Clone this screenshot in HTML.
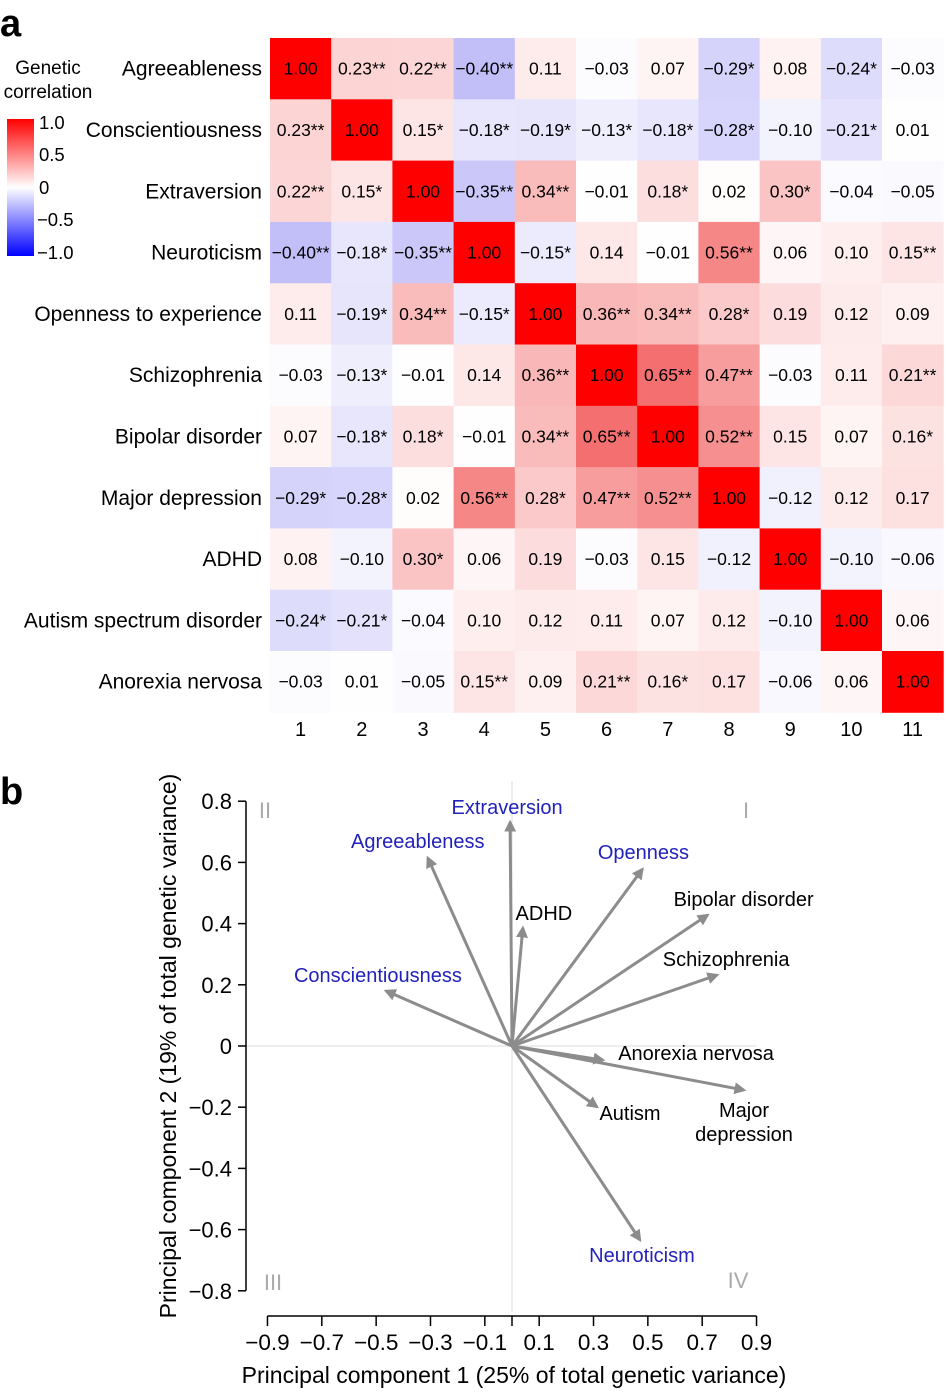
<!DOCTYPE html>
<html><head><meta charset="utf-8"><style>
body{margin:0;background:#fff;font-family:"Liberation Sans",sans-serif;}
svg text{font-family:"Liberation Sans",sans-serif;}
</style></head><body>
<svg id="s" width="946" height="1389" viewBox="0 0 946 1389" xmlns="http://www.w3.org/2000/svg">
<defs><linearGradient id="cb" x1="0" y1="0" x2="0" y2="1">
<stop offset="0" stop-color="#f00"/><stop offset="0.5" stop-color="#fff"/><stop offset="1" stop-color="#00f"/></linearGradient>
<marker id="ah" viewBox="0 0 10 10" refX="8" refY="5" markerWidth="4" markerHeight="4" orient="auto"><path d="M0,0L10,5L0,10z" fill="#8c8c8c"/></marker></defs>
<text x="0" y="36" font-size="38" font-weight="bold">a</text>
<text x="0" y="804" font-size="38" font-weight="bold">b</text>
<g>
<text x="48" y="74" font-size="19" text-anchor="middle">Genetic</text>
<text x="48" y="98" font-size="19" text-anchor="middle">correlation</text>
<rect x="7" y="119" width="27" height="137" fill="url(#cb)"/>
<text x="39" y="129" font-size="18.5">1.0</text><text x="39" y="161" font-size="18.5">0.5</text>
<text x="39" y="194" font-size="18.5">0</text><text x="37" y="226" font-size="18.5">−0.5</text><text x="37" y="259" font-size="18.5">−1.0</text>
</g>
<g id="hm"></g>
<g id="pca"></g>
</svg>
<script>
const traits=["Agreeableness","Conscientiousness","Extraversion","Neuroticism","Openness to experience","Schizophrenia","Bipolar disorder","Major depression","ADHD","Autism spectrum disorder","Anorexia nervosa"];
const colLabels=["1","2","3","4","5","6","7","8","9","10","11"];
const corr=[
["1.00","0.23**","0.22**","−0.40**","0.11","−0.03","0.07","−0.29*","0.08","−0.24*","−0.03"],
["0.23**","1.00","0.15*","−0.18*","−0.19*","−0.13*","−0.18*","−0.28*","−0.10","−0.21*","0.01"],
["0.22**","0.15*","1.00","−0.35**","0.34**","−0.01","0.18*","0.02","0.30*","−0.04","−0.05"],
["−0.40**","−0.18*","−0.35**","1.00","−0.15*","0.14","−0.01","0.56**","0.06","0.10","0.15**"],
["0.11","−0.19*","0.34**","−0.15*","1.00","0.36**","0.34**","0.28*","0.19","0.12","0.09"],
["−0.03","−0.13*","−0.01","0.14","0.36**","1.00","0.65**","0.47**","−0.03","0.11","0.21**"],
["0.07","−0.18*","0.18*","−0.01","0.34**","0.65**","1.00","0.52**","0.15","0.07","0.16*"],
["−0.29*","−0.28*","0.02","0.56**","0.28*","0.47**","0.52**","1.00","−0.12","0.12","0.17"],
["0.08","−0.10","0.30*","0.06","0.19","−0.03","0.15","−0.12","1.00","−0.10","−0.06"],
["−0.24*","−0.21*","−0.04","0.10","0.12","0.11","0.07","0.12","−0.10","1.00","0.06"],
["−0.03","0.01","−0.05","0.15**","0.09","0.21**","0.16*","0.17","−0.06","0.06","1.00"]];
const pcNames=["Extraversion","Agreeableness","Openness","ADHD","Bipolar disorder","Schizophrenia","Conscientiousness","Anorexia nervosa","Major depression","Autism","Neuroticism"];
const pc1=[-0.007,-0.31,0.48,0.04,0.72,0.755,-0.464,0.335,0.854,0.313,0.471];
const pc2=[0.732,0.615,0.578,0.386,0.428,0.232,0.18,-0.046,-0.144,-0.199,-0.634];
const pcPersonality=[1,1,1,0,0,0,1,0,0,0,1];
const xTicks=[-0.9,-0.7,-0.5,-0.3,-0.1,0.1,0.3,0.5,0.7,0.9];
const yTicks=[0.8,0.6,0.4,0.2,0,-0.2,-0.4,-0.6,-0.8];
const NS="http://www.w3.org/2000/svg";
function mk(t,a,p,txt){const e=document.createElementNS(NS,t);for(const k in a)e.setAttribute(k,a[k]);if(txt!==undefined)e.textContent=txt;p.appendChild(e);return e;}
function fmt(v){return (v<0?"−":"")+Math.abs(v).toFixed(1).replace(/^0\.0$/,"0");}
const num=s=>parseFloat(s.replace("−","-").replace(/\*/g,""));
function col(v){v=Math.max(-1,Math.min(1,v));
 if(v>=0.999)return 'rgb(255,0,0)';
 if(v>=0){const k=Math.pow(v,1.15)*0.92;const g=Math.round(255*(1-k));return `rgb(${Math.round(255-k*20)},${g},${g})`;}
 const k=Math.pow(-v,1.2)*0.8;return `rgb(${Math.round(255*(1-k*0.9))},${Math.round(255*(1-k*0.95))},${Math.round(255-k*25)})`;}
const hm=document.getElementById('hm');const X0=270,Y0=38,CW=61.2,CH=61.3;
const cx=j=>X0+j*CW, cy=i=>Y0+i*CH;
corr.forEach((row,i)=>{
 const lab=mk('text',{x:262,y:cy(i)+CH/2+7,'font-size':21,'text-anchor':'end'},hm,traits[i]);
 
 
 row.forEach((s,j)=>{const v=num(s);
  const r=mk('rect',{x:cx(j),y:cy(i),width:CW+0.5,height:CH+0.5,fill:col(v)},hm);
  
  
  const t=mk('text',{x:cx(j)+CW/2,y:cy(i)+CH/2+6,'font-size':17.5,'text-anchor':'middle'},hm,s);
  
  
 });});
colLabels.forEach((c,j)=>{const t=mk('text',{x:cx(j)+CW/2,y:736,'font-size':20,'text-anchor':'middle'},hm,c);
 
 });
const g=document.getElementById('pca');
const sx=v=>512+v*271.7, sy=v=>1046-v*306;
mk('line',{x1:sx(0),y1:sy(0.8)-20,x2:sx(0),y2:1312,stroke:'#ddd','stroke-width':1},g);
mk('line',{x1:246,y1:sy(0),x2:sx(0.9),y2:sy(0),stroke:'#ddd','stroke-width':1},g);
const ya=mk('g',{},g);
mk('line',{x1:246,y1:sy(0.8),x2:246,y2:sy(-0.8),stroke:'#000','stroke-width':1.5},ya);
yTicks.forEach(v=>{mk('line',{x1:238,y1:sy(v),x2:246,y2:sy(v),stroke:'#000','stroke-width':1.5},ya);
 mk('text',{x:232,y:sy(v)+8,'font-size':22,'text-anchor':'end'},ya,fmt(v));});
const xa=mk('g',{},g);
mk('line',{x1:sx(-0.9),y1:1316,x2:sx(0.9),y2:1316,stroke:'#000','stroke-width':1.5},xa);
xTicks.forEach(v=>{mk('line',{x1:sx(v),y1:1316,x2:sx(v),y2:1326,stroke:'#000','stroke-width':1.5},xa);
 mk('text',{x:sx(v),y:1350,'font-size':22.5,'text-anchor':'middle'},xa,fmt(v));});
mk('line',{x1:sx(0),y1:1316,x2:sx(0),y2:1326,stroke:'#000','stroke-width':1.5},xa);
const xt=mk('text',{x:514,y:1383,'font-size':23,'text-anchor':'middle'},g,'Principal component 1 (25% of total genetic variance)');

const yt=mk('text',{x:0,y:0,'font-size':23,'text-anchor':'middle',transform:'translate(176,1046) rotate(-90)'},g,'Principal component 2 (19% of total genetic variance)');

[["II",265,818],["I",746,818],["III",273,1290],["IV",738,1288]].forEach(q=>{
 const t=mk('text',{x:q[1],y:q[2],'font-size':22,fill:'#aaa','text-anchor':'middle'},g,q[0]);
 });
const lp={"Extraversion":[-3,-8,'middle'],"Agreeableness":[-10,-10,'middle'],"Openness":[1,-10,'middle'],"ADHD":[21,-8,'middle'],"Bipolar disorder":[36,-9,'middle'],"Schizophrenia":[9,-9,'middle'],"Conscientiousness":[-8,-9,'middle'],"Anorexia nervosa":[93,0,'middle'],"Major depression":[0,0,'middle'],"Autism":[33,13,'middle'],"Neuroticism":[2,22,'middle']};
pcNames.forEach((n,i)=>{
 const a=mk('line',{x1:sx(0),y1:sy(0),x2:sx(pc1[i]),y2:sy(pc2[i]),stroke:'#8c8c8c','stroke-width':3,'marker-end':'url(#ah)'},g);
 
 const o=lp[n];const c=pcPersonality[i]?'#2222bb':'#000';
 if(n==="Major depression"){
  const t=mk('text',{x:744,y:1117,'font-size':20,'text-anchor':'middle',fill:c},g);
  mk('tspan',{x:744},t,'Major');mk('tspan',{x:744,dy:24},t,'depression');
  
 } else {
  const t=mk('text',{x:sx(pc1[i])+o[0],y:sy(pc2[i])+o[1],'font-size':20,'text-anchor':o[2],fill:c},g,n);
  
 }});
</script>
</body></html>
